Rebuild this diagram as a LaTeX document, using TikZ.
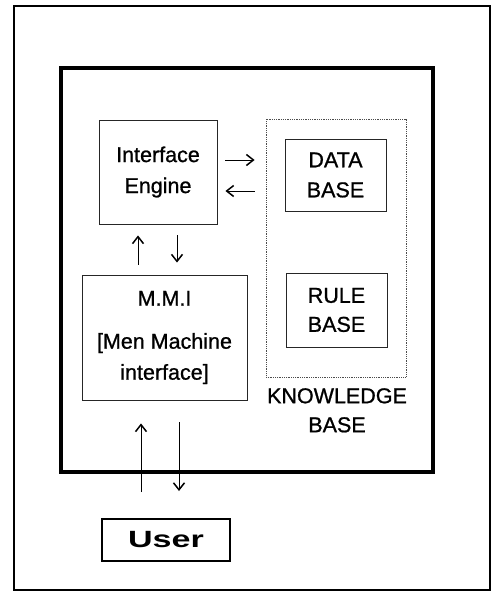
\documentclass[tikz,border=0pt]{standalone}
\usepackage{fontspec}
\setmainfont{Liberation Sans}
\newfontfamily\medfont[FakeBold=0.9]{Liberation Sans}
\usetikzlibrary{arrows.meta,calc}
\tikzset{
  box/.style={draw=black!85, line width=0.9pt, rectangle, inner sep=0pt, align=center,
    font=\medfont\fontsize{21.5}{31}\selectfont},
  arr/.style={line width=0.9pt, -{Straight Barb[length=7pt,width=11pt,line width=1.5pt]}},
  lbl/.style={align=center, inner sep=0pt, font=\medfont\fontsize{21.5}{29}\selectfont}
}
\begin{document}
\begin{tikzpicture}[x=1pt,y=-1pt]
\useasboundingbox (0,0) rectangle (497,592);
% frames
\draw[line width=2.4pt] (14,6) rectangle (490,590);
\draw[line width=4.8pt] (61,68) rectangle (433,472);
% nodes
\node[box, minimum width=118pt, minimum height=104pt] (ie) at (158,172) {Interface\\Engine};
\node[draw=black!70, densely dotted, line width=0.8pt, minimum width=140pt, minimum height=258pt, inner sep=0pt] (kb) at (336,248) {};
\node[box, minimum width=101pt, minimum height=72pt, font=\medfont\fontsize{21.5}{30}\selectfont] (db) at (335.5,175) {DATA\\BASE};
\node[box, minimum width=101pt, minimum height=74pt, font=\medfont\fontsize{21.5}{29}\selectfont] (rb) at (336.5,310) {RULE\\BASE};
\node[lbl, anchor=north] (kbl) at (337,388) {KNOWLEDGE\\BASE};
\node[box, minimum width=165pt, minimum height=125pt] (mmi) at (164.5,337.5) {M.M.I\\[12pt][Men Machine\\interface]};
\node[draw, line width=2pt, minimum width=128pt, minimum height=42pt, inner sep=0pt,
  font=\bfseries\fontsize{23.5}{28}\selectfont] (user) at (166,540) {\scalebox{1.45}[1]{User}};
% connectors
\draw[arr] ($(ie.east)+(8,-12)$) -- ($(kb.west |- ie.east)+(-11,-12)$);
\draw[arr] ($(kb.west |- ie.east)+(-11,19)$) -- ($(ie.east)+(8,19)$);
\draw[arr] ($(mmi.north)+(-26.5,-10)$) -- ($(ie.south)+(-20,11)$);
\draw[arr] ($(ie.south)+(19,11)$) -- ($(mmi.north)+(12.5,-12)$);
\draw[arr] ($(user.north)+(-25,-26)$) -- ($(mmi.south)+(-23.5,23)$);
\draw[arr] ($(mmi.south)+(14.5,22)$) -- ($(user.north)+(13,-27)$);
\end{tikzpicture}
\end{document}
